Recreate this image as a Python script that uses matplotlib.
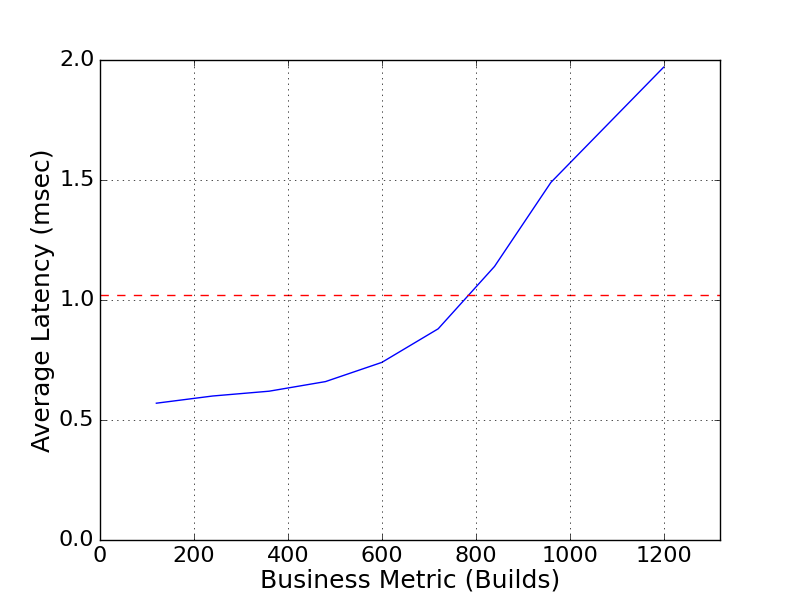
import matplotlib
matplotlib.use("Agg")
from matplotlib import pyplot as plt

# ------------------ data ------------------ #
builds = [120, 240, 360, 480, 600, 720, 840, 960, 1080, 1200]
latency = [0.57, 0.60, 0.62, 0.66, 0.74, 0.88, 1.14, 1.49, 1.73, 1.97]
threshold = 1.02

plt.style.use("classic")
fig = plt.figure(figsize=(8, 6), dpi=100)
ax = fig.add_subplot(111)

ax.plot(builds, latency, color="blue", linewidth=1)
ax.axhline(threshold, color="red", linestyle="--", linewidth=1)

ax.set_xlim(0, 1320)
ax.set_ylim(0, 2.0)
ax.set_xticks([0, 200, 400, 600, 800, 1000, 1200])
ax.set_yticks([0.0, 0.5, 1.0, 1.5, 2.0])
ax.grid(True, color="black", linestyle=":")
ax.tick_params(labelsize=16)
ax.set_xlabel("Business Metric (Builds)", fontsize=18, labelpad=2)
ax.set_ylabel("Average Latency (msec)", fontsize=18, labelpad=3)

fig.savefig("out.png", dpi=100, facecolor="white")
